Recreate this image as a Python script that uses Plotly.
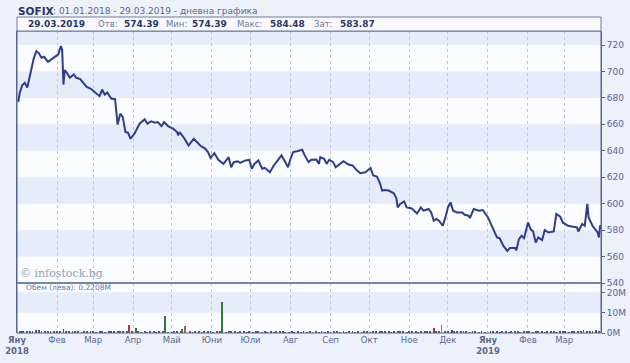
import pandas as pd
import plotly.graph_objects as go

# ---------------- data ----------------
# trading day offsets from 01.01.2018 and SOFIX close values
price_days = [1, 2, 4, 6, 8, 11, 13, 15, 17, 19, 21, 24, 27, 29, 32, 34, 35, 36, 37, 39,
              41, 44, 46, 49, 51, 54, 57, 60, 64, 66, 68, 70, 73, 76, 77, 78, 80, 82, 84, 86,
              88, 91, 95, 99, 101, 104, 107, 109, 112, 114, 117, 121, 124, 125, 126, 129, 133, 137, 142, 146,
              148, 150, 153, 156, 160, 164, 166, 168, 171, 173, 177, 180, 182, 184, 187, 190, 192, 196, 199, 203,
              205, 208, 210, 212, 214, 217, 221, 223, 226, 228, 232, 234, 235, 238, 240, 242, 245, 247, 250, 253,
              257, 260, 263, 266, 270, 272, 274, 276, 279, 281, 283, 285, 288, 292, 294, 295, 297, 300, 302, 306,
              310, 313, 315, 319, 321, 323, 325, 327, 330, 332, 334, 336, 338, 341, 345, 347, 350, 351, 354, 358,
              361, 365, 368, 370, 372, 374, 377, 380, 382, 386, 387, 389, 391, 393, 396, 398, 400, 402, 404, 407,
              409, 412, 416, 418, 421, 423, 427, 431, 434, 435, 438, 440, 442, 443, 446, 448, 450, 451, 452]
price_vals = [676.9, 683.3, 689.6, 691.4, 687.9, 701.0, 709.9, 715.4, 713.7, 710.4, 711.1, 707.3, 709.4, 710.4, 712.9, 719.2, 716.2, 690.1, 701.0, 698.5,
              695.2, 697.7, 695.2, 694.2, 692.1, 688.3, 687.1, 684.5, 681.3, 686.3, 682.5, 684.1, 679.5, 679.0, 669.3, 659.8, 668.1, 665.5, 654.2, 653.7,
              649.1, 653.0, 660.5, 663.8, 660.5, 662.3, 661.3, 661.7, 658.7, 661.7, 658.7, 656.7, 654.2, 651.6, 654.2, 650.4, 644.0, 649.1, 644.0, 641.5,
              639.0, 634.7, 638.2, 633.2, 630.1, 635.2, 627.6, 631.4, 632.1, 630.9, 632.7, 633.2, 626.4, 630.1, 632.7, 626.4, 627.1, 623.8, 628.9, 634.0,
              636.5, 631.4, 627.6, 634.0, 639.0, 639.7, 640.8, 636.5, 631.4, 633.2, 633.4, 630.1, 635.2, 634.0, 630.1, 633.2, 631.4, 627.6, 630.1, 632.1,
              629.6, 628.9, 625.6, 623.0, 623.8, 625.6, 627.1, 621.3, 620.5, 616.2, 609.9, 610.4, 609.9, 607.8, 604.3, 597.2, 599.8, 601.7, 597.2, 596.4,
              592.6, 597.2, 594.7, 596.0, 593.4, 587.1, 588.4, 587.1, 583.3, 589.6, 597.2, 601.0, 594.7, 593.4, 593.4, 591.6, 590.9, 589.1, 596.0, 594.7,
              595.2, 589.6, 583.3, 578.2, 574.4, 573.9, 568.1, 564.3, 566.4, 566.4, 564.8, 573.2, 575.7, 573.9, 585.8, 580.8, 579.0, 570.6, 574.4, 572.4,
              580.0, 578.2, 579.0, 592.2, 590.1, 585.8, 583.3, 582.5, 582.0, 579.0, 584.6, 583.3, 599.8, 589.6, 583.3, 580.8, 578.2, 574.4, 583.87]

# volume (millions of leva)
vol_days = [2, 4, 5, 8, 10, 12, 15, 17, 19, 22,
            24, 26, 29, 31, 33, 36, 38, 40, 43, 45,
            47, 50, 52, 54, 57, 59, 61, 64, 66, 68,
            71, 73, 75, 78, 80, 82, 85, 87, 89, 92,
            94, 96, 99, 101, 103, 106, 108, 110, 113, 115,
            117, 120, 122, 124, 127, 128, 130, 134, 136, 138,
            141, 143, 145, 148, 150, 152, 155, 157, 159, 162,
            164, 166, 169, 171, 173, 176, 178, 180, 183, 185,
            187, 190, 192, 194, 197, 199, 201, 204, 206, 208,
            211, 213, 215, 218, 220, 222, 225, 227, 229, 232,
            234, 236, 239, 241, 243, 246, 248, 250, 253, 255,
            257, 260, 262, 264, 267, 269, 271, 274, 276, 278,
            281, 283, 285, 288, 290, 292, 295, 297, 299, 302,
            304, 306, 309, 311, 313, 316, 318, 320, 323, 325,
            327, 329, 332, 334, 337, 339, 341, 344, 346, 348,
            351, 353, 355, 358, 360, 363, 367, 369, 372, 374,
            376, 379, 381, 383, 386, 388, 390, 393, 395, 397,
            400, 402, 404, 407, 409, 411, 414, 416, 418, 421,
            423, 425, 428, 430, 432, 435, 437, 439, 442, 444,
            446, 449, 451, 452]
vol_vals = [0.5, 0.8, 0.6, 0.9, 1.1, 0.7, 1.3, 1.6, 0.9, 0.6,
            0.8, 0.5, 1.0, 0.7, 0.9, 1.8, 0.6, 1.0, 0.7, 0.5,
            0.6, 0.4, 0.8, 0.5, 0.9, 0.6, 0.3, 0.7, 0.5, 0.4,
            0.9, 0.6, 1.1, 0.7, 0.5, 0.8, 1.0, 3.8, 0.7, 2.6,
            0.5, 0.4, 0.6, 0.3, 0.5, 0.7, 0.4, 0.6, 0.5, 8.3,
            0.4, 0.3, 0.6, 0.5, 0.8, 1.8, 3.6, 0.5, 0.4, 0.7,
            0.6, 0.4, 0.9, 0.5, 0.7, 0.4, 0.6, 0.5, 15.2, 0.4,
            0.6, 0.5, 0.7, 0.4, 0.8, 0.5, 0.3, 0.6, 0.4, 0.5,
            0.7, 0.4, 0.6, 0.3, 0.5, 0.4, 0.6, 0.5, 0.8, 0.4,
            0.3, 0.5, 0.4, 0.6, 0.3, 0.5, 0.4, 0.7, 0.3, 0.5,
            0.4, 0.6, 0.3, 0.5, 0.4, 0.7, 0.5, 0.3, 0.6, 0.4,
            0.8, 0.5, 0.4, 0.6, 0.3, 0.5, 0.7, 0.4, 0.6, 0.5,
            0.9, 0.6, 0.7, 0.5, 0.4, 0.8, 1.0, 0.6, 0.5, 0.4,
            0.6, 0.5, 0.8, 0.4, 0.7, 0.5, 0.6, 0.9, 2.4, 0.6,
            0.8, 4.1, 1.0, 0.7, 1.3, 0.6, 0.9, 1.2, 0.5, 0.7,
            0.4, 0.6, 0.5, 0.3, 0.7, 0.4, 0.5, 0.6, 0.8, 0.4,
            0.5, 0.7, 0.4, 0.6, 1.1, 0.5, 0.4, 0.6, 0.5, 0.7,
            0.4, 0.6, 0.5, 1.0, 0.4, 0.6, 0.5, 0.8, 0.4, 0.7,
            0.5, 0.9, 0.4, 0.6, 1.2, 0.5, 0.7, 1.3, 0.6, 0.5,
            0.8, 1.4, 0.6, 0.22]

month_starts = ["2018-01-01", "2018-02-01", "2018-03-01", "2018-04-01", "2018-05-01",
                "2018-06-01", "2018-07-01", "2018-08-01", "2018-09-01", "2018-10-01",
                "2018-11-01", "2018-12-01", "2019-01-01", "2019-02-01", "2019-03-01"]
month_labels = ["<b>Яну</b><br><b>2018</b>", "Фев", "Мар", "Апр", "Май", "Юни", "Юли", "Авг",
                "Сеп", "Окт", "Ное", "Дек", "<b>Яну</b><br><b>2019</b>", "Фев", "Мар"]

price_ticks = [540, 560, 580, 600, 620, 640, 660, 680, 700, 720]
vol_ticks = [0, 10, 20]
vol_tick_labels = ["0M", "10M", "20M"]

title_name = "SOFIX"
title_rest = ": 01.01.2018 - 29.03.2019 - дневна графика"
info_date = "29.03.2019"
info_items = [("Отв:", "574.39"), ("Мин:", "574.39"), ("Макс:", "584.48"), ("Зат:", "583.87")]
volume_label = "Обем (лева): 0.2208M"
watermark = "© infostock.bg"

# ---------------- figure ----------------
base = pd.Timestamp("2018-01-01")
p_dates = base + pd.to_timedelta(price_days, unit="D")
v_dates = base + pd.to_timedelta(vol_days, unit="D")

spike_colors = {87: "#b03a3a", 92: "#2f7a3a", 115: "#2f7a3a", 128: "#2f7a3a", 130: "#b0604a",
                159: "#2f7a3a", 323: "#a03a3a", 329: "#c06060"}
bar_colors = [spike_colors.get(d, "#4a5578") for d in vol_days]

NAVY = "#2a3566"
LAB = "#5a6890"
FONT = "DejaVu Sans"

fig = go.Figure()
fig.add_trace(go.Scatter(x=p_dates, y=price_vals, mode="lines",
                         line=dict(color="#2f3d8c", width=2), xaxis="x", yaxis="y",
                         hoverinfo="x+y"))
fig.add_trace(go.Bar(x=v_dates, y=[v * 1e6 for v in vol_vals], marker=dict(color=bar_colors, line=dict(width=0)),
                     width=0.7 * 86400000, xaxis="x2", yaxis="y2"))

VOL_TOP = 50 / 302
xr = [base, base + pd.Timedelta(days=452.6)]

common_x = dict(type="date", range=xr, tickvals=month_starts, showgrid=True, griddash="dot",
                gridcolor="#bcc6dc", gridwidth=1, zeroline=False, showline=False, automargin=False)
fig.update_layout(
    width=630, height=363,
    margin=dict(l=17, r=29, t=31, b=30, autoexpand=False),
    paper_bgcolor="#edf1f9", plot_bgcolor="#fbfcff",
    showlegend=False, bargap=0,
    font=dict(family=FONT, size=9, color=LAB),
    xaxis=dict(**common_x, domain=[0, 1], anchor="y", showticklabels=False, ticks=""),
    yaxis=dict(domain=[VOL_TOP, 1], range=[540, 730.6], side="right", tickvals=price_ticks,
               ticks="outside", ticklen=3, tickcolor="#55658c", showgrid=False, zeroline=False,
               showline=True, linecolor="#55658c", linewidth=1, mirror=True, automargin=False,
               tickfont=dict(family=FONT, size=9, color=LAB)),
    xaxis2=dict(**common_x, domain=[0, 1], anchor="y2", ticktext=month_labels, ticks="",
                tickfont=dict(family=FONT, size=8.5, color=LAB), tickangle=0, matches="x"),
    yaxis2=dict(domain=[0, VOL_TOP], range=[0, 24.6e6], side="right",
                tickvals=[v * 1e6 for v in vol_ticks], ticktext=vol_tick_labels,
                ticks="outside", ticklen=3, tickcolor="#55658c", showgrid=False, zeroline=False,
                showline=True, linecolor="#55658c", linewidth=1, mirror=True, automargin=False,
                tickfont=dict(family=FONT, size=9, color=LAB)),
)

shapes = []
# alternating bands in price panel
for lo in [560, 600, 640, 680, 720]:
    shapes.append(dict(type="rect", xref="paper", yref="y", x0=0, x1=1, y0=lo, y1=min(lo + 20, 730.6),
                       fillcolor="#e6edfa", line=dict(width=0), layer="below"))
# band in volume panel
shapes.append(dict(type="rect", xref="paper", yref="y2", x0=0, x1=1, y0=10e6, y1=20e6,
                   fillcolor="#e6edfa", line=dict(width=0), layer="below"))
# frame
shapes.append(dict(type="rect", xref="paper", yref="paper", x0=0, x1=1, y0=0, y1=1,
                   line=dict(color="#55658c", width=1), layer="above"))
# separator between panels
shapes.append(dict(type="line", xref="paper", yref="paper", x0=0, x1=1, y0=VOL_TOP, y1=VOL_TOP,
                   line=dict(color="#7585a8", width=2), layer="above"))
# info box
shapes.append(dict(type="rect", xref="paper", yref="paper", x0=0, x1=1.0, y0=1.0, y1=(333 - 17) / 302,
                   fillcolor="#f8faff", line=dict(color="#6a7aa0", width=1), layer="above"))
fig.update_layout(shapes=shapes)


def px_x(px):
    return (px - 17) / 584.0


def px_y(py):
    return (333 - py) / 302.0


ann = []
ann.append(dict(text=f"<b>{title_name}</b>", x=px_x(16), y=px_y(11), xref="paper", yref="paper",
                xanchor="left", yanchor="middle", showarrow=False,
                font=dict(family=FONT, size=10.5, color=NAVY)))
ann.append(dict(text=title_rest, x=px_x(51), y=px_y(11), xref="paper", yref="paper",
                xanchor="left", yanchor="middle", showarrow=False,
                font=dict(family=FONT, size=9, color=LAB)))
ann.append(dict(text=f"<b>{info_date}</b>", x=px_x(26), y=px_y(24), xref="paper", yref="paper",
                xanchor="left", yanchor="middle", showarrow=False,
                font=dict(family=FONT, size=9, color=NAVY)))
label_x = [96, 164, 235, 312]
value_x = [122, 190, 268, 338]
for (lab, val), lx, vx in zip(info_items, label_x, value_x):
    ann.append(dict(text=lab, x=px_x(lx), y=px_y(24), xref="paper", yref="paper",
                    xanchor="left", yanchor="middle", showarrow=False,
                    font=dict(family=FONT, size=8.5, color="#6a78a0")))
    ann.append(dict(text=f"<b>{val}</b>", x=px_x(vx), y=px_y(24), xref="paper", yref="paper",
                    xanchor="left", yanchor="middle", showarrow=False,
                    font=dict(family=FONT, size=9, color=NAVY)))
ann.append(dict(text=volume_label, x=px_x(24), y=px_y(287.5), xref="paper", yref="paper",
                xanchor="left", yanchor="middle", showarrow=False,
                font=dict(family=FONT, size=7.5, color="#6a78a0")))
ann.append(dict(text=watermark, x=px_x(18), y=px_y(273), xref="paper", yref="paper",
                xanchor="left", yanchor="middle", showarrow=False,
                font=dict(family="DejaVu Serif", size=11, color="#8e9cbc")))
fig.update_layout(annotations=ann)

fig.write_html("out.html", config={"displayModeBar": False},
               post_script="document.body.style.margin='0';document.body.style.background='#edf1f9';")
